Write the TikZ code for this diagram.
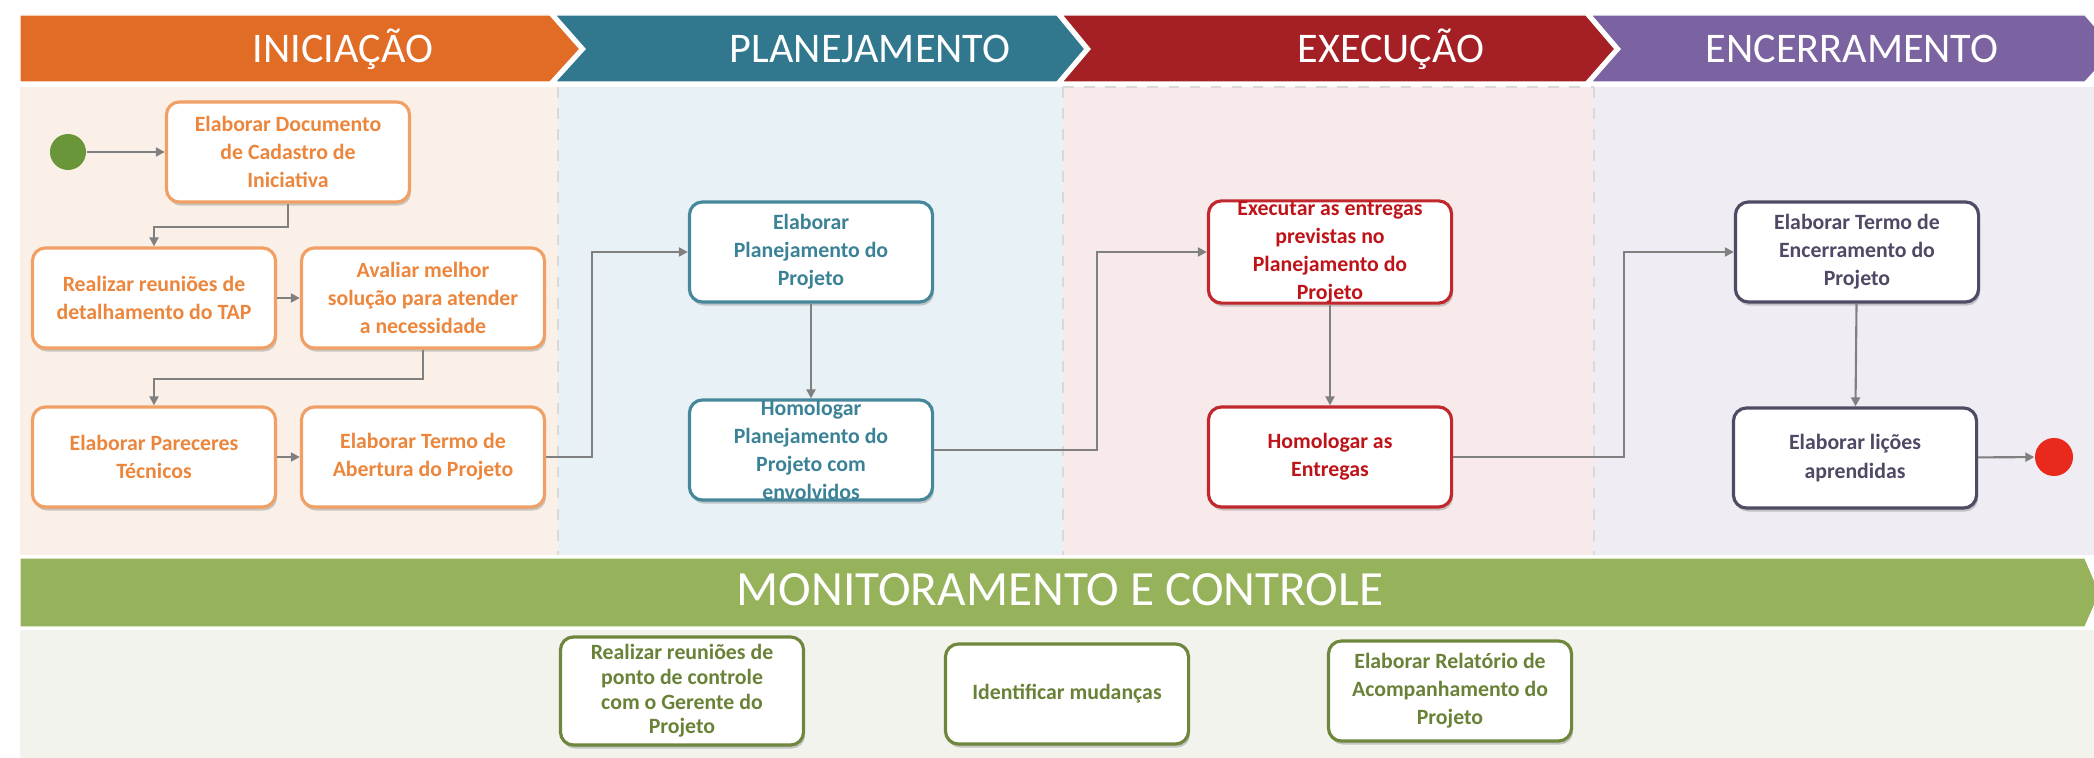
\documentclass[tikz,border=0pt]{standalone}
\usepackage{fontspec}
\setmainfont{Carlito}
\usepackage{xcolor}
\usepackage{tikz}
\usetikzlibrary{arrows.meta, positioning, shadows}

\definecolor{iniOrange}{RGB}{224,108,38}
\definecolor{planTeal}{RGB}{49,120,143}
\definecolor{execRed}{RGB}{165,32,36}
\definecolor{encPurple}{RGB}{123,98,160}
\definecolor{monGreen}{RGB}{150,178,90}
\definecolor{iniBg}{RGB}{251,240,232}
\definecolor{planBg}{RGB}{232,242,246}
\definecolor{execBg}{RGB}{248,233,234}
\definecolor{encBg}{RGB}{239,236,243}
\definecolor{monBg}{RGB}{241,243,236}
\definecolor{iniLine}{RGB}{240,160,100}
\definecolor{iniText}{RGB}{236,134,60}
\definecolor{planLine}{RGB}{70,135,155}
\definecolor{planText}{RGB}{60,130,150}
\definecolor{execLine}{RGB}{192,40,45}
\definecolor{execText}{RGB}{190,20,25}
\definecolor{encLine}{RGB}{80,75,100}
\definecolor{encText}{RGB}{80,72,100}
\definecolor{monLine}{RGB}{110,135,60}
\definecolor{monText}{RGB}{105,130,55}
\definecolor{flowGray}{RGB}{128,128,128}
\definecolor{startGreen}{RGB}{106,150,58}
\definecolor{endRed}{RGB}{232,41,28}

\begin{document}
\begin{tikzpicture}[x=0.01cm, y=-0.01cm,
    task/.style={rounded corners=0.13cm, fill=white, line width=0.9pt, align=center,
        minimum width=2.43cm, minimum height=1cm, inner xsep=1pt, inner ysep=0pt,
        font=\fontsize{6.2}{8}\selectfont\bfseries,
        drop shadow={opacity=0.4, shadow xshift=0.4pt, shadow yshift=-1pt}},
    iniTask/.style={task, draw=iniLine, text=iniText},
    planTask/.style={task, draw=planLine, text=planText},
    execTask/.style={task, draw=execLine, text=execText},
    encTask/.style={task, draw=encLine, text=encText},
    monTask/.style={task, draw=monLine, text=monText},
    flow/.style={draw=flowGray, line width=0.6pt, -{Triangle[length=0.9mm, width=0.9mm]}},
    phase/.style={text=white, font=\fontsize{12}{14}\selectfont},
    laneSep/.style={draw=gray!30, dashed, line width=0.4pt}]

    \useasboundingbox (0,0) rectangle (2094,758);
    \clip (0,0) rectangle (2094,758);

    % Lanes
    \fill[iniBg] (20,87) rectangle (558,555);
    \fill[planBg] (558,87) rectangle (1063,555);
    \fill[execBg] (1063,87) rectangle (1594,555);
    \fill[encBg] (1594,87) rectangle (2094,555);
    \fill[monBg] (20,630) rectangle (2094,758);
    \draw[laneSep] (558,87) -- (558,555);
    \draw[laneSep] (1063,87) -- (1063,555);
    \draw[laneSep] (1594,87) -- (1594,555);
    \draw[laneSep] (1063,87) -- (1594,87);

    % Phase chevrons
    \filldraw[fill=iniOrange, draw=white] (20,15) -- (550,15) -- (580,49) -- (550,82) -- (20,82) -- cycle;
    \filldraw[fill=planTeal, draw=white] (555,15) -- (1057,15) -- (1085,49) -- (1057,82) -- (555,82) -- (585,49) -- cycle;
    \filldraw[fill=execRed, draw=white] (1062,15) -- (1586,15) -- (1615,49) -- (1586,82) -- (1062,82) -- (1090,49) -- cycle;
    \filldraw[fill=encPurple, draw=white] (1591,15) -- (2085,15) -- (2115,49) -- (2085,82) -- (1591,82) -- (1620,49) -- cycle;
    \node[phase] (iniciacao) at (343,49) {INICIAÇÃO};
    \node[phase] (planejamento) at (870,49) {PLANEJAMENTO};
    \node[phase] (execucao) at (1391,49) {EXECUÇÃO};
    \node[phase] (encerramentoTit) at (1852,49) {ENCERRAMENTO};

    % Monitoring bar
    \filldraw[fill=monGreen, draw=white] (20,558) -- (2085,558) -- (2100,593) -- (2085,627) -- (20,627) -- cycle;
    \node[phase, font=\fontsize{14}{16}\selectfont] (monitoramento) at (1060,590) {MONITORAMENTO E CONTROLE};

    % Iniciação
    \node[circle, fill=startGreen, minimum size=0.36cm, inner sep=0pt] (inicio) at (68,152) {};
    \node[iniTask] (cadastro) at (288,152) {Elaborar Documento\\de Cadastro de\\Iniciativa};
    \node[iniTask] (reunioes) at (154,298) {Realizar reuniões de\\detalhamento do TAP};
    \node[iniTask] (avaliar) at (423,298) {Avaliar melhor\\solução para atender\\a necessidade};
    \node[iniTask] (pareceres) at (154,457) {Elaborar Pareceres\\Técnicos};
    \node[iniTask] (abertura) at (423,457) {Elaborar Termo de\\Abertura do Projeto};

    % Planejamento
    \node[planTask] (planejar) at (811,252) {Elaborar\\Planejamento do\\Projeto};
    \node[planTask] (homologarPlan) at (811,450) {Homologar\\Planejamento do\\Projeto com\\envolvidos};

    % Execução
    \node[execTask] (executar) at (1330,252) {Executar as entregas\\previstas no\\Planejamento do\\Projeto};
    \node[execTask] (homologarEnt) at (1330,457) {Homologar as\\Entregas};

    % Encerramento
    \node[encTask] (termoEnc) at (1857,252) {Elaborar Termo de\\Encerramento do\\Projeto};
    \node[encTask] (licoes) at (1855,458) {Elaborar lições\\aprendidas};
    \node[circle, fill=endRed, minimum size=0.38cm, inner sep=0pt] (fim) at (2054,457) {};

    % Monitoramento e controle
    \node[monTask, minimum height=1.08cm, font=\fontsize{6.2}{7}\selectfont\bfseries] (pontoControle) at (682,691) {Realizar reuniões de\\ponto de controle\\com o Gerente do\\Projeto};
    \node[monTask] (mudancas) at (1067,694) {Identificar mudanças};
    \node[monTask] (relatorio) at (1450,691) {Elaborar Relatório de\\Acompanhamento do\\Projeto};

    % Flow
    \draw[flow] (inicio) -- (cadastro);
    \draw[flow] (cadastro.south) -- ++(0,23) -| (reunioes.north);
    \draw[flow] (reunioes) -- (avaliar);
    \draw[flow] (avaliar.south) -- ++(0,29) -| (pareceres.north);
    \draw[flow] (pareceres) -- (abertura);
    \draw[flow] (abertura.east) -- ++(46,0) |- (planejar.west);
    \draw[flow] (planejar) -- (homologarPlan);
    \draw[flow] (homologarPlan.east) -- ++(163,0) |- (executar.west);
    \draw[flow] (executar) -- (homologarEnt);
    \draw[flow] (homologarEnt.east) -- ++(171,0) |- (termoEnc.west);
    \draw[flow] (termoEnc) -- (licoes);
    \draw[flow] (licoes) -- (fim);
\end{tikzpicture}
\end{document}
